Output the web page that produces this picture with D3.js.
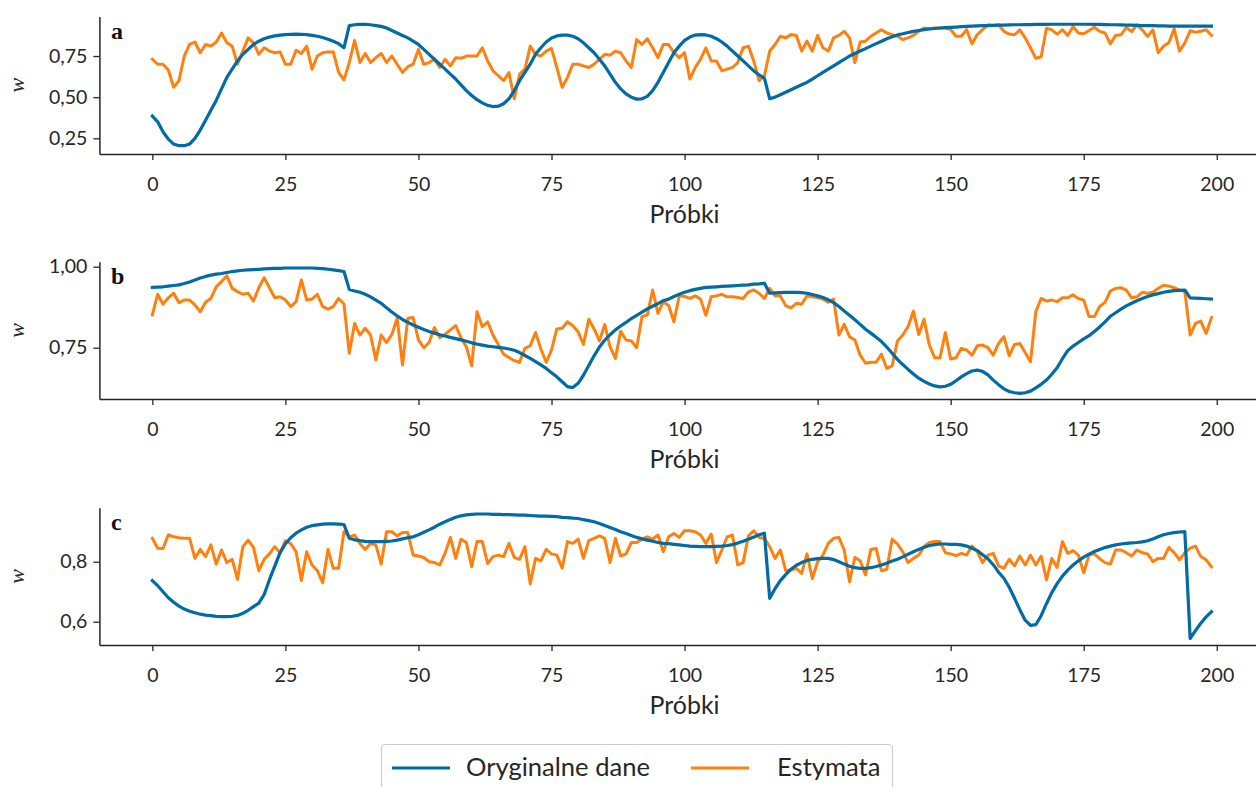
<!DOCTYPE html>
<html>
<head>
<meta charset="utf-8">
<script src="https://cdn.jsdelivr.net/npm/d3@7"></script>
<style>
  html, body { margin: 0; padding: 0; background: #ffffff; }
  svg { display: block; }
</style>
</head>
<body>
<script>
// ---------------- DATA ----------------
const samples = d3.range(200);
const xTicks = [0, 25, 50, 75, 100, 125, 150, 175, 200];
const yTicksA = [0.25, 0.50, 0.75];
const yTicksB = [0.75, 1.00];
const yTicksC = [0.6, 0.8];
const panelLetters = ["a", "b", "c"];
const seriesNames = ["Oryginalne dane", "Estymata"];
const xLabel = "Próbki";
const yLabel = "w";

const origA = [
 .385,.35,.29,.245,.215,.205,.205,.215,.25,.30,
 .36,.42,.48,.55,.62,.67,.72,.76,.79,.82,
 .84,.855,.865,.872,.877,.88,.882,.883,.882,.88,
 .875,.87,.862,.852,.84,.825,.80,.935,.94,.942,
 .942,.94,.935,.93,.92,.905,.89,.875,.86,.84,
 .82,.79,.76,.73,.70,.67,.64,.61,.575,.54,
 .51,.485,.465,.45,.443,.445,.46,.49,.54,.60,
 .65,.70,.76,.80,.835,.86,.872,.877,.877,.87,
 .855,.83,.80,.77,.73,.69,.64,.59,.55,.52,
 .50,.488,.49,.505,.54,.59,.65,.71,.77,.81,
 .845,.865,.877,.88,.878,.87,.855,.835,.81,.78,
 .75,.72,.69,.66,.635,.615,.49,.50,.515,.53,
 .545,.56,.575,.59,.61,.63,.65,.67,.69,.71,
 .73,.75,.765,.78,.795,.81,.825,.84,.855,.867,
 .878,.885,.893,.90,.905,.91,.914,.917,.92,.922,
 .924,.926,.928,.93,.932,.933,.934,.935,.936,.937,
 .938,.939,.94,.94,.941,.941,.942,.942,.942,.943,
 .943,.943,.943,.943,.943,.943,.943,.942,.942,.941,
 .94,.94,.939,.938,.937,.936,.935,.934,.934,.933,
 .933,.932,.932,.932,.932,.931,.931,.931,.931,.931
];
const estA = [
 .73,.70,.70,.665,.56,.60,.75,.82,.835,.77,
 .82,.81,.835,.89,.83,.81,.70,.78,.86,.83,
 .76,.80,.78,.77,.775,.70,.70,.785,.765,.81,
 .67,.75,.77,.775,.775,.65,.605,.71,.845,.71,
 .765,.71,.74,.765,.71,.75,.70,.65,.685,.70,
 .79,.70,.71,.73,.68,.73,.69,.74,.736,.75,
 .75,.75,.80,.72,.66,.63,.60,.65,.49,.64,
 .67,.81,.76,.75,.78,.796,.68,.56,.62,.70,
 .70,.69,.68,.70,.73,.76,.755,.78,.77,.72,
 .68,.85,.82,.855,.80,.74,.82,.82,.77,.74,
 .77,.61,.68,.73,.80,.72,.72,.66,.67,.68,
 .71,.80,.81,.72,.60,.63,.78,.82,.87,.86,
 .88,.875,.78,.84,.78,.875,.80,.78,.86,.875,
 .90,.86,.71,.835,.84,.87,.89,.91,.89,.88,
 .87,.85,.86,.875,.90,.92,.915,.92,.92,.92,
 .91,.87,.87,.91,.824,.88,.91,.94,.935,.94,
 .90,.883,.879,.909,.86,.80,.736,.745,.919,.909,
 .883,.909,.875,.929,.889,.885,.905,.925,.90,.89,
 .824,.875,.879,.923,.899,.939,.909,.869,.909,.77,
 .81,.83,.915,.78,.83,.903,.895,.90,.909,.875
];
const origB = [
 .936,.937,.938,.94,.942,.944,.948,.953,.959,.965,
 .97,.974,.977,.979,.982,.985,.987,.989,.99,.991,
 .992,.993,.994,.995,.995,.996,.996,.996,.996,.996,
 .996,.995,.994,.992,.99,.988,.985,.93,.925,.921,
 .915,.907,.897,.887,.873,.86,.848,.837,.828,.82,
 .813,.806,.80,.795,.79,.786,.782,.778,.774,.77,
 .765,.761,.758,.755,.753,.751,.749,.746,.742,.735,
 .726,.717,.707,.697,.686,.673,.66,.645,.63,.627,
 .64,.665,.695,.725,.752,.773,.79,.805,.817,.828,
 .84,.85,.86,.87,.878,.886,.895,.90,.908,.915,
 .921,.926,.93,.933,.936,.937,.938,.939,.94,.941,
 .942,.943,.944,.946,.947,.949,.918,.919,.92,.921,
 .921,.921,.92,.918,.914,.91,.905,.898,.889,.877,
 .863,.85,.836,.822,.807,.795,.782,.769,.752,.733,
 .714,.698,.683,.669,.656,.646,.638,.632,.629,.631,
 .637,.648,.66,.67,.678,.681,.677,.666,.65,.636,
 .623,.615,.611,.609,.611,.616,.626,.637,.65,.668,
 .688,.716,.741,.755,.766,.777,.787,.80,.814,.83,
 .847,.858,.869,.879,.887,.895,.902,.908,.913,.917,
 .921,.924,.926,.927,.928,.904,.903,.902,.901,.90
];
const estB = [
 .851,.915,.884,.904,.918,.889,.897,.897,.882,.861,
 .89,.902,.938,.954,.972,.933,.923,.915,.918,.894,
 .935,.966,.935,.904,.907,.897,.877,.892,.959,.897,
 .90,.915,.877,.869,.877,.902,.885,.733,.825,.789,
 .81,.789,.712,.789,.766,.791,.841,.697,.841,.843,
 .774,.75,.766,.812,.781,.791,.805,.818,.781,.753,
 .694,.861,.815,.83,.789,.76,.73,.72,.71,.705,
 .748,.756,.797,.746,.705,.743,.808,.81,.83,.818,
 .799,.76,.838,.808,.771,.822,.753,.717,.801,.774,
 .771,.75,.846,.851,.928,.856,.892,.88,.83,.91,
 .908,.902,.91,.90,.85,.907,.91,.915,.907,.907,
 .905,.902,.922,.928,.918,.902,.933,.91,.91,.88,
 .873,.887,.884,.91,.907,.905,.90,.89,.90,.789,
 .822,.784,.774,.727,.702,.705,.705,.73,.686,.694,
 .771,.789,.815,.863,.791,.838,.758,.719,.719,.797,
 .715,.719,.748,.743,.727,.756,.758,.75,.727,.763,
 .784,.725,.76,.763,.735,.707,.861,.902,.894,.897,
 .892,.904,.904,.913,.902,.897,.846,.846,.877,.89,
 .925,.933,.935,.928,.904,.907,.921,.918,.921,.933,
 .943,.94,.935,.928,.923,.789,.825,.832,.794,.843
];
const origC = [
 .737,.72,.70,.68,.665,.652,.642,.635,.63,.625,
 .622,.62,.618,.617,.617,.618,.621,.628,.638,.65,
 .662,.69,.74,.785,.83,.86,.88,.895,.906,.915,
 .92,.923,.925,.926,.926,.925,.924,.878,.873,.87,
 .868,.867,.867,.867,.868,.869,.872,.876,.88,.883,
 .89,.898,.906,.915,.925,.933,.941,.948,.953,.956,
 .958,.959,.959,.959,.958,.958,.957,.957,.956,.955,
 .955,.954,.953,.952,.952,.951,.95,.948,.947,.945,
 .944,.94,.937,.933,.927,.921,.914,.907,.90,.894,
 .887,.881,.876,.872,.868,.864,.861,.86,.858,.856,
 .854,.852,.851,.85,.85,.85,.851,.852,.854,.857,
 .862,.868,.875,.882,.89,.895,.678,.71,.737,.757,
 .775,.788,.797,.804,.808,.81,.811,.811,.807,.80,
 .792,.785,.78,.778,.778,.78,.784,.789,.795,.802,
 .808,.816,.825,.833,.841,.848,.854,.857,.859,.859,
 .858,.858,.856,.852,.845,.837,.823,.81,.79,.765,
 .745,.715,.678,.64,.605,.588,.59,.62,.66,.697,
 .727,.752,.772,.789,.803,.815,.825,.834,.841,.847,
 .852,.856,.859,.861,.863,.864,.866,.87,.876,.883,
 .89,.894,.897,.899,.90,.544,.57,.595,.616,.633
];
const estC = [
 .878,.845,.844,.89,.883,.88,.878,.878,.811,.841,
 .817,.856,.792,.839,.797,.808,.741,.85,.872,.848,
 .77,.808,.826,.85,.83,.87,.86,.833,.737,.833,
 .789,.77,.73,.841,.778,.778,.90,.883,.889,.861,
 .841,.861,.855,.792,.90,.90,.886,.897,.897,.822,
 .819,.814,.80,.797,.789,.828,.881,.811,.875,.864,
 .783,.867,.867,.794,.817,.822,.817,.861,.814,.808,
 .85,.726,.811,.803,.841,.826,.822,.778,.867,.861,
 .875,.811,.87,.878,.886,.878,.797,.878,.819,.826,
 .864,.864,.875,.883,.875,.889,.833,.883,.894,.881,
 .903,.903,.90,.889,.861,.892,.797,.839,.883,.889,
 .789,.797,.886,.903,.881,.878,.85,.811,.839,.77,
 .772,.778,.761,.826,.744,.80,.822,.861,.878,.881,
 .839,.733,.814,.803,.756,.841,.844,.77,.775,.875,
 .859,.833,.797,.811,.822,.85,.864,.867,.867,.83,
 .826,.82,.828,.822,.852,.833,.797,.822,.828,.786,
 .778,.808,.786,.819,.789,.822,.789,.819,.739,.811,
 .781,.867,.828,.837,.822,.763,.822,.826,.81,.797,
 .792,.839,.839,.83,.819,.839,.83,.826,.80,.811,
 .811,.848,.83,.806,.83,.845,.852,.817,.806,.783
];

// ---------------- STYLE / LAYOUT ----------------
const W = 1256, H = 787;
const BLUE = "#006BA4", ORANGE = "#FF800E", INK = "#262626";
const SANS = "Lato, 'Open Sans', sans-serif";
const SERIF = "'Liberation Serif', 'DejaVu Serif', serif";

const locale = d3.formatLocale({decimal: ",", thousands: " ", grouping: [3], currency: ["", " zł"]});

const panels = [
  {letter: panelLetters[0], orig: origA, est: estA, ticks: yTicksA, fmt: locale.format(".2f"),
   domain: [0.1546, 0.990], range: [154, 16.5]},
  {letter: panelLetters[1], orig: origB, est: estB, ticks: yTicksB, fmt: locale.format(".2f"),
   domain: [0.5917, 1.0154], range: [399, 261.7]},
  {letter: panelLetters[2], orig: origC, est: estC, ticks: yTicksC, fmt: locale.format(".1f"),
   domain: [0.5223, 0.980], range: [645, 507.7]}
];

const x = d3.scaleLinear().domain([-9.95, 208.95]).range([99.4, 1264.4]);

const svg = d3.select("body").append("svg")
  .attr("width", W).attr("height", H)
  .attr("viewBox", `0 0 ${W} ${H}`);

// font sizes fitted to the reference text widths
function fitSize(str, target, base) {
  const t = svg.append("text").text(str)
    .style("font-family", SANS).style("font-size", base + "px");
  const w = t.node().getComputedTextLength();
  t.remove();
  return w > 0 ? base * target / w : base;
}
const TICK_FS = Math.min(22, fitSize("100", 34, 20));
const LABEL_FS = Math.min(27, fitSize("Próbki", 70, 20));
const LEGEND_FS = Math.min(27, fitSize("Oryginalne dane", 184, 20));

panels.forEach(p => {
  const y = d3.scaleLinear().domain(p.domain).range(p.range);
  const g = svg.append("g");
  const bottom = p.range[0], top = p.range[1];

  const line = d3.line().x((d, i) => x(samples[i])).y(d => y(d));

  g.append("path").datum(p.est)
    .attr("d", line).attr("fill", "none")
    .attr("stroke", ORANGE).attr("stroke-width", 3)
    .attr("stroke-linejoin", "round").attr("stroke-linecap", "square");
  g.append("path").datum(p.orig)
    .attr("d", line).attr("fill", "none")
    .attr("stroke", BLUE).attr("stroke-width", 3.2)
    .attr("stroke-linejoin", "round").attr("stroke-linecap", "square");

  // x axis
  const xa = g.append("g").attr("transform", `translate(0,${bottom})`)
    .call(d3.axisBottom(x).tickValues(xTicks).tickSize(6).tickSizeOuter(0)
      .tickFormat(d3.format("d")));
  // y axis
  const ya = g.append("g").attr("transform", `translate(${x.range()[0]},0)`)
    .call(d3.axisLeft(y).tickValues(p.ticks).tickSize(6).tickSizeOuter(0).tickPadding(6)
      .tickFormat(p.fmt));

  [xa, ya].forEach(a => {
    a.select(".domain").attr("stroke", INK).attr("stroke-width", 1.5);
    a.selectAll(".tick line").attr("stroke", INK).attr("stroke-width", 1.3);
    a.selectAll(".tick text").attr("fill", INK)
      .style("font-family", SANS).style("font-size", TICK_FS + "px");
  });
  xa.selectAll(".tick text").attr("y", 37).attr("dy", 0);

  // x label
  g.append("text").text(xLabel)
    .attr("x", x(100)).attr("y", bottom + 69)
    .attr("text-anchor", "middle").attr("fill", INK)
    .style("font-family", SANS).style("font-size", LABEL_FS + "px");

  // y label
  const ym = (bottom + top) / 2;
  g.append("text").text(yLabel)
    .attr("transform", `translate(24,${ym}) rotate(-90)`)
    .attr("text-anchor", "middle").attr("fill", INK)
    .style("font-family", SERIF).style("font-style", "italic").style("font-size", "22px");

  // panel letter
  g.append("text").text(p.letter)
    .attr("x", 111).attr("y", top + 22)
    .attr("fill", "#111").style("font-family", SERIF)
    .style("font-weight", "bold").style("font-size", "24px");
});

// ---------------- LEGEND ----------------
const lg = svg.append("g");
lg.append("rect").attr("x", 381.5).attr("y", 744.5).attr("width", 511).attr("height", 50)
  .attr("rx", 4).attr("fill", "#fff").attr("stroke", "#cccccc").attr("stroke-width", 1.2);
const items = [
  {name: seriesNames[0], color: BLUE, w: 3.2, x0: 392, tx: 466},
  {name: seriesNames[1], color: ORANGE, w: 3, x0: 691, tx: 777}
];
items.forEach(it => {
  lg.append("line").attr("x1", it.x0).attr("x2", it.x0 + 58)
    .attr("y1", 768).attr("y2", 768)
    .attr("stroke", it.color).attr("stroke-width", it.w);
  lg.append("text").text(it.name)
    .attr("x", it.tx).attr("y", 776)
    .attr("fill", INK).style("font-family", SANS).style("font-size", LEGEND_FS + "px");
});
</script>
</body>
</html>
